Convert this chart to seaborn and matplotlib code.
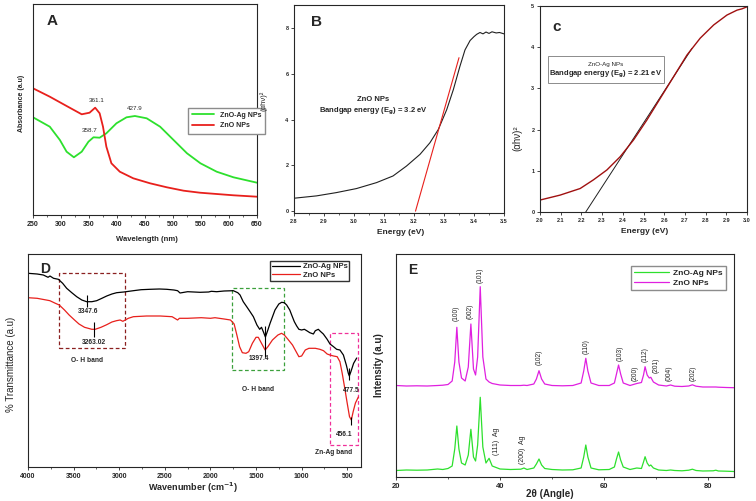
import matplotlib
matplotlib.use("Agg")
import matplotlib.pyplot as plt
import seaborn as sns
from matplotlib.patches import Rectangle
from matplotlib.ticker import MultipleLocator

# ---- A: UV-vis absorbance ----
uv_wl_zno = [250, 280, 310, 337, 351, 361, 369, 375, 381, 390, 405, 429, 459, 489, 519, 548, 578, 608, 650]
uv_abs_zno = [1.267, 1.183, 1.09, 1.007, 1.023, 1.073, 1.017, 0.883, 0.683, 0.517, 0.433, 0.367, 0.317,
              0.277, 0.243, 0.223, 0.21, 0.197, 0.183]
uv_wl_znoag = [250, 280, 298, 310, 323, 337, 349, 358, 369, 381, 399, 417, 432, 453, 477, 501, 525, 549, 578, 608, 650]
uv_abs_znoag = [0.977, 0.883, 0.75, 0.633, 0.577, 0.633, 0.733, 0.777, 0.773, 0.817, 0.917, 0.977, 0.99,
                0.967, 0.883, 0.75, 0.617, 0.517, 0.433, 0.377, 0.323]

# ---- B: Tauc plot ZnO ----
tauc_e_zno = [2.8, 2.875, 2.941, 3.008, 3.075, 3.13, 3.175, 3.22, 3.253, 3.281, 3.309, 3.331, 3.353, 3.37,
              3.387, 3.40, 3.409, 3.42, 3.43, 3.44, 3.45, 3.46, 3.474, 3.485, 3.5]
tauc_y_zno = [0.565, 0.667, 0.81, 0.986, 1.246, 1.536, 1.97, 2.48, 2.985, 3.565, 4.43, 5.30, 6.32, 7.04,
              7.45, 7.62, 7.72, 7.80, 7.74, 7.82, 7.76, 7.83, 7.78, 7.80, 7.74]
fit_e_zno = [3.205, 3.35]
fit_y_zno = [0.0, 6.7]

# ---- C: Tauc plot ZnO-Ag ----
tauc_e_znoag = [2.0, 2.097, 2.194, 2.258, 2.323, 2.387, 2.452, 2.516, 2.581, 2.645, 2.71, 2.774, 2.839,
                2.903, 2.952, 2.975, 3.0]
tauc_y_znoag = [0.29, 0.41, 0.57, 0.78, 1.02, 1.34, 1.75, 2.23, 2.76, 3.28, 3.81, 4.22, 4.54, 4.78, 4.90,
                4.93, 4.98]
fit_e_znoag = [2.221, 2.734]
fit_y_znoag = [0.0, 3.97]

# ---- D: FTIR ----
ftir_wn_znoag = [4000, 3900, 3832, 3780, 3759, 3720, 3667, 3620, 3576, 3520, 3466, 3410, 3357, 3300, 3247,
                 3190, 3137, 3080, 3028, 2950, 2845, 2760, 2662, 2560, 2480, 2400, 2360, 2333, 2250, 2114,
                 2020, 1990, 1931, 1850, 1749, 1700, 1675, 1640, 1602, 1565, 1529, 1490, 1460, 1440, 1420,
                 1397, 1370, 1346, 1292, 1250, 1219, 1190, 1164, 1130, 1109, 1080, 1054, 1030, 1000, 970,
                 944, 910, 871, 850, 817, 790, 762, 720, 689, 650, 616, 580, 542, 510, 488, 477, 460, 430, 396]
ftir_t_znoag = [1.937, 1.93, 1.92, 1.897, 1.91, 1.887, 1.877, 1.837, 1.787, 1.743, 1.703, 1.67, 1.653,
                1.653, 1.663, 1.687, 1.71, 1.73, 1.743, 1.75, 1.763, 1.773, 1.777, 1.78, 1.777, 1.77, 1.763,
                1.74, 1.753, 1.747, 1.75, 1.757, 1.753, 1.76, 1.763, 1.743, 1.72, 1.653, 1.603, 1.553, 1.503,
                1.42, 1.377, 1.397, 1.353, 1.30, 1.37, 1.437, 1.57, 1.63, 1.647, 1.643, 1.62, 1.57, 1.52,
                1.453, 1.41, 1.377, 1.37, 1.377, 1.363, 1.343, 1.33, 1.363, 1.377, 1.353, 1.33, 1.277, 1.23,
                1.203, 1.177, 1.17, 1.12, 1.02, 0.937, 0.91, 0.953, 1.037, 1.09]
ftir_wn_zno = [4000, 3900, 3800, 3760, 3700, 3657, 3600, 3549, 3490, 3441, 3380, 3300, 3263, 3200, 3137,
               3080, 3030, 2990, 2960, 2900, 2845, 2700, 2550, 2420, 2360, 2340, 2250, 2100, 2000, 1950,
               1850, 1780, 1740, 1710, 1680, 1650, 1610, 1580, 1540, 1500, 1475, 1440, 1400, 1370, 1320,
               1260, 1220, 1190, 1150, 1100, 1060, 1030, 1000, 960, 920, 850, 800, 760, 720, 690, 650, 610,
               580, 555, 530, 500, 475, 455, 435, 410, 378]
ftir_t_zno = [1.693, 1.687, 1.67, 1.663, 1.637, 1.62, 1.57, 1.52, 1.47, 1.43, 1.397, 1.377, 1.377, 1.397,
              1.423, 1.45, 1.463, 1.47, 1.457, 1.487, 1.503, 1.51, 1.51, 1.503, 1.47, 1.487, 1.487, 1.493,
              1.487, 1.493, 1.48, 1.47, 1.43, 1.32, 1.203, 1.143, 1.137, 1.153, 1.237, 1.297, 1.297, 1.237,
              1.17, 1.203, 1.27, 1.32, 1.337, 1.32, 1.277, 1.22, 1.153, 1.103, 1.11, 1.17, 1.187, 1.187,
              1.177, 1.163, 1.13, 1.12, 1.11, 1.103, 1.053, 0.937, 0.803, 0.637, 0.503, 0.47, 0.553, 0.64, 0.70]

# ---- E: XRD ----
xrd_2theta = [20, 22, 24, 26, 28, 29, 30, 30.8, 31.3, 31.7, 32.1, 32.6, 33.3, 33.9, 34.4, 34.9, 35.3, 35.7,
              36.2, 36.7, 37.3, 37.9, 38.5, 40, 42, 44, 44.6, 45.2, 46.5, 47.0, 47.5, 48.0, 48.6, 50, 52,
              54, 55.6, 56.1, 56.5, 56.9, 57.5, 59, 61, 62.0, 62.4, 62.8, 63.2, 63.7, 65, 66.3, 67.2, 67.6,
              67.9, 68.3, 68.7, 69.0, 69.5, 70.5, 72, 72.8, 73.6, 75, 76.3, 77.0, 77.7, 79, 81, 81.5, 82,
              83.5, 85]
xrd_zno = [0.915, 0.91, 0.912, 0.91, 0.915, 0.918, 0.925, 0.96, 1.15, 1.497, 1.15, 0.99, 0.96, 1.1, 1.53,
           1.08, 1.02, 1.2, 1.903, 1.2, 0.98, 0.95, 0.935, 0.92, 0.915, 0.915, 0.918, 0.915, 0.93, 0.98,
           1.063, 0.98, 0.93, 0.915, 0.912, 0.915, 0.94, 1.06, 1.187, 1.06, 0.94, 0.915, 0.915, 0.94, 1.03,
           1.12, 1.03, 0.94, 0.915, 0.935, 0.945, 1.02, 1.103, 1.02, 0.99, 0.997, 0.95, 0.92, 0.91, 0.92,
           0.908, 0.905, 0.91, 0.922, 0.908, 0.9, 0.9, 0.9, 0.898, 0.895, 0.893]
xrd_znoag = [0.065, 0.07, 0.068, 0.07, 0.08, 0.075, 0.085, 0.11, 0.28, 0.51, 0.28, 0.14, 0.12, 0.22, 0.477,
             0.2, 0.16, 0.32, 0.797, 0.3, 0.14, 0.187, 0.11, 0.08, 0.075, 0.078, 0.09, 0.075, 0.09, 0.13,
             0.18, 0.12, 0.085, 0.075, 0.07, 0.072, 0.09, 0.2, 0.32, 0.2, 0.09, 0.072, 0.075, 0.1, 0.18,
             0.25, 0.17, 0.1, 0.075, 0.09, 0.085, 0.15, 0.203, 0.14, 0.11, 0.12, 0.09, 0.07, 0.065, 0.07,
             0.065, 0.062, 0.068, 0.078, 0.065, 0.06, 0.062, 0.068, 0.06, 0.058, 0.055]
hkl_labels = ["(100)", "(002)", "(101)", "(102)", "(110)", "(103)", "(200)", "(112)", "(201)", "(004)", "(202)"]
hkl_pos = [31.6, 34.2, 36.2, 47.5, 56.6, 63.1, 66.0, 67.9, 70.1, 72.6, 77.1]
hkl_y = [1.637, 1.653, 2.02, 1.197, 1.303, 1.237, 1.037, 1.22, 1.12, 1.037, 1.037]
ag_labels = ["(111)  Ag", "(200)  Ag"]
ag_pos = [39.3, 44.4]
ag_y = [0.353, 0.27]

GREEN = "#2de02d"
RED = "#e8201c"
MAGENTA = "#e020e0"

sns.set_theme(style="ticks")
plt.rcParams["font.family"] = ["Liberation Sans", "DejaVu Sans"]
plt.rcParams["axes.linewidth"] = 0.8

W, H = 756, 501
fig = plt.figure(figsize=(W / 100, H / 100), dpi=100)


def add_ax(left, top, right, bottom):
    return fig.add_axes([left / W, (H - bottom) / H, (right - left) / W, (bottom - top) / H])


def style(ax, size):
    ax.tick_params(which="major", length=2.5, width=0.6, pad=1.5, labelsize=size)
    ax.tick_params(which="minor", length=1.5, width=0.5)
    for t in ax.get_xticklabels() + ax.get_yticklabels():
        t.set_fontweight("bold")
    for s in ax.spines.values():
        s.set_color("0.15")


# ---- panel A ----
axA = add_ax(33, 4, 257, 215)
sns.lineplot(x=uv_wl_znoag, y=uv_abs_znoag, ax=axA, color=GREEN, lw=1.3, label="ZnO-Ag NPs")
sns.lineplot(x=uv_wl_zno, y=uv_abs_zno, ax=axA, color=RED, lw=1.3, label="ZnO NPs")
axA.set_xlim(250, 650)
axA.set_ylim(0, 2.11)
axA.set_yticks([])
axA.xaxis.set_major_locator(MultipleLocator(50))
axA.xaxis.set_minor_locator(MultipleLocator(25))
style(axA, 5)
axA.set_xlabel("Wavelength (nm)", fontsize=5.5, fontweight="bold")
axA.xaxis.set_label_coords(0.51, -0.1)
axA.set_ylabel("Absorbance (a.u)", fontsize=5, fontweight="bold")
axA.yaxis.set_label_coords(-0.036, 0.53)
axA.text(363, 1.14, "361.1", fontsize=4.5, ha="center", va="center")
axA.text(352, 0.843, "358.7", fontsize=4.5, ha="center", va="center")
axA.text(432, 1.067, "427.9", fontsize=4.5, ha="center", va="center")
axA.text(0.06, 0.92, "A", transform=axA.transAxes, fontsize=11, fontweight="bold", va="center")
axA.legend(loc="upper left", bbox_to_anchor=(0.675, 0.525), fontsize=5, prop={"weight": "bold", "size": 5},
           frameon=True, fancybox=False, edgecolor="0.55", framealpha=1, handlelength=3.2,
           borderpad=0.6, labelspacing=0.5)

# ---- panel B ----
axB = add_ax(294, 5, 504, 213)
sns.lineplot(x=tauc_e_zno, y=tauc_y_zno, ax=axB, color="#202020", lw=0.8)
sns.lineplot(x=fit_e_zno, y=fit_y_zno, ax=axB, color=RED, lw=0.8)
axB.set_xlim(2.8, 3.5)
axB.set_ylim(-0.08, 9.0)
axB.set_xticks([2.8, 2.9, 3.0, 3.1, 3.2, 3.3, 3.4, 3.5])
axB.set_xticklabels(["2.8", "2.9", "3.0", "3.1", "3.2", "3.3", "3.4", "3.5"])
axB.set_yticks([0, 2, 4, 6, 8])
axB.xaxis.set_minor_locator(MultipleLocator(0.05))
style(axB, 4)
axB.set_xlabel("Energy (eV)", fontsize=6, fontweight="bold")
axB.xaxis.set_label_coords(0.51, -0.075)
axB.set_ylabel("(αhν)²", fontsize=5.5)
axB.yaxis.set_label_coords(-0.125, 0.54)
axB.text(3.064, 4.87, "ZnO NPs", fontsize=5.5, fontweight="bold", ha="center", va="center")
axB.text(3.064, 4.36, "Bandgap energy (E$_\\mathbf{g}$) = 3.2 eV", fontsize=5.5, fontweight="bold",
         ha="center", va="center")
axB.text(0.08, 0.92, "B", transform=axB.transAxes, fontsize=11, fontweight="bold", va="center")

# ---- panel C ----
axC = add_ax(540, 6, 747, 212)
sns.lineplot(x=fit_e_znoag, y=fit_y_znoag, ax=axC, color="#202020", lw=0.7)
sns.lineplot(x=tauc_e_znoag, y=tauc_y_znoag, ax=axC, color="#a01010", lw=1.0)
axC.set_xlim(2.0, 3.0)
axC.set_ylim(0, 5)
axC.set_xticks([2.0, 2.1, 2.2, 2.3, 2.4, 2.5, 2.6, 2.7, 2.8, 2.9, 3.0])
axC.set_xticklabels(["2.0", "2.1", "2.2", "2.3", "2.4", "2.5", "2.6", "2.7", "2.8", "2.9", "3.0"])
axC.set_yticks([0, 1, 2, 3, 4, 5])
style(axC, 4)
axC.set_xlabel("Energy (eV)", fontsize=6, fontweight="bold")
axC.xaxis.set_label_coords(0.507, -0.078)
axC.set_ylabel("(αhν)²", fontsize=7)
axC.yaxis.set_label_coords(-0.087, 0.36)
axC.add_patch(Rectangle((2.04, 3.12), 0.557, 0.67, fill=False, edgecolor="0.55", lw=0.7))
axC.text(2.319, 3.59, "ZnO-Ag NPs", fontsize=4.5, ha="center", va="center")
axC.text(2.319, 3.35, "Bandgap energy (E$_\\mathbf{g}$) = 2.21 eV", fontsize=5.5, fontweight="bold",
         ha="center", va="center")
axC.text(0.06, 0.9, "c", transform=axC.transAxes, fontsize=11, fontweight="bold", va="center")

# ---- panel D ----
axD = add_ax(28, 254, 361, 467)
sns.lineplot(x=ftir_wn_znoag, y=ftir_t_znoag, ax=axD, color="black", lw=0.9, label="ZnO-Ag NPs")
sns.lineplot(x=ftir_wn_zno, y=ftir_t_zno, ax=axD, color=RED, lw=0.9, label="ZnO NPs")
axD.set_xlim(4000, 349)
axD.set_ylim(0, 2.13)
axD.set_yticks([])
axD.xaxis.set_major_locator(MultipleLocator(500))
axD.xaxis.set_minor_locator(MultipleLocator(250))
style(axD, 5)
axD.set_xlabel("Wavenumber (cm$^{\\mathbf{-1}}$)", fontsize=6.5, fontweight="bold")
axD.xaxis.set_label_coords(0.496, -0.065)
axD.set_ylabel("% Transmittance (a.u)", fontsize=7)
axD.yaxis.set_label_coords(-0.035, 0.48)
axD.add_patch(Rectangle((3656, 1.187), 2936 - 3656, 0.756, fill=False, edgecolor="#8b2020", lw=0.9, ls=(0, (3, 2))))
axD.add_patch(Rectangle((1760, 0.97), 1193 - 1760, 0.817, fill=False, edgecolor="#3ca03c", lw=0.9, ls=(0, (3, 2))))
axD.add_patch(Rectangle((689, 0.22), 378 - 689, 1.123, fill=False, edgecolor="#f0309a", lw=0.9, ls=(0, (3, 2))))
axD.vlines([3357, 3276, 1397, 477, 456], [1.603, 1.303, 1.097, 0.87, 0.42], [1.72, 1.453, 1.41, 0.987, 0.503],
           color="black", lw=0.8)
for x, y, s in [(3338, 1.553, "3347.6"), (3276, 1.247, "3263.02"), (3349, 1.07, "O- H band"),
                (1464, 1.087, "1397.4"), (1475, 0.777, "O- H band"), (451, 0.76, "477.5"),
                (532, 0.33, "456.1"), (652, 0.147, "Zn-Ag band")]:
    axD.text(x, y, s, fontsize=4.8, fontweight="bold", ha="center", va="center")
axD.text(0.035, 0.93, "D", transform=axD.transAxes, fontsize=10, fontweight="bold", va="center")
axD.legend(loc="upper left", bbox_to_anchor=(0.716, 0.985), prop={"weight": "bold", "size": 5.5},
           frameon=True, fancybox=False, edgecolor="0.2", framealpha=1, handlelength=3.6,
           borderpad=0.25, labelspacing=0.15, handletextpad=0.4)

# ---- panel E ----
axE = add_ax(396, 254, 734, 477)
sns.lineplot(x=xrd_2theta, y=xrd_znoag, ax=axE, color=GREEN, lw=0.9, label="ZnO-Ag NPs")
sns.lineplot(x=xrd_2theta, y=xrd_zno, ax=axE, color=MAGENTA, lw=0.9, label="ZnO NPs")
axE.set_xlim(20, 85)
axE.set_ylim(0, 2.23)
axE.set_yticks([])
axE.xaxis.set_major_locator(MultipleLocator(20))
axE.xaxis.set_minor_locator(MultipleLocator(10))
style(axE, 5.5)
axE.set_xlabel("2θ (Angle)", fontsize=7, fontweight="bold")
axE.xaxis.set_label_coords(0.456, -0.055)
axE.set_ylabel("Intensity (a.u)", fontsize=7, fontweight="bold")
axE.yaxis.set_label_coords(-0.035, 0.5)
for x, y, s in zip(hkl_pos, hkl_y, hkl_labels):
    axE.text(x, y, s, fontsize=4.8, rotation=90, ha="center", va="center")
for x, y, s in zip(ag_pos, ag_y, ag_labels):
    axE.text(x, y, s, fontsize=5, rotation=90, ha="center", va="center")
axE.text(0.035, 0.93, "E", transform=axE.transAxes, fontsize=10, fontweight="bold", va="center")
axE.legend(loc="upper left", bbox_to_anchor=(0.684, 0.965), prop={"weight": "bold", "size": 6},
           frameon=True, fancybox=False, edgecolor="0.55", framealpha=1, handlelength=4.2,
           borderpad=0.35, labelspacing=0.25, handletextpad=0.5)

fig.savefig("out.png", dpi=100, facecolor="white")
